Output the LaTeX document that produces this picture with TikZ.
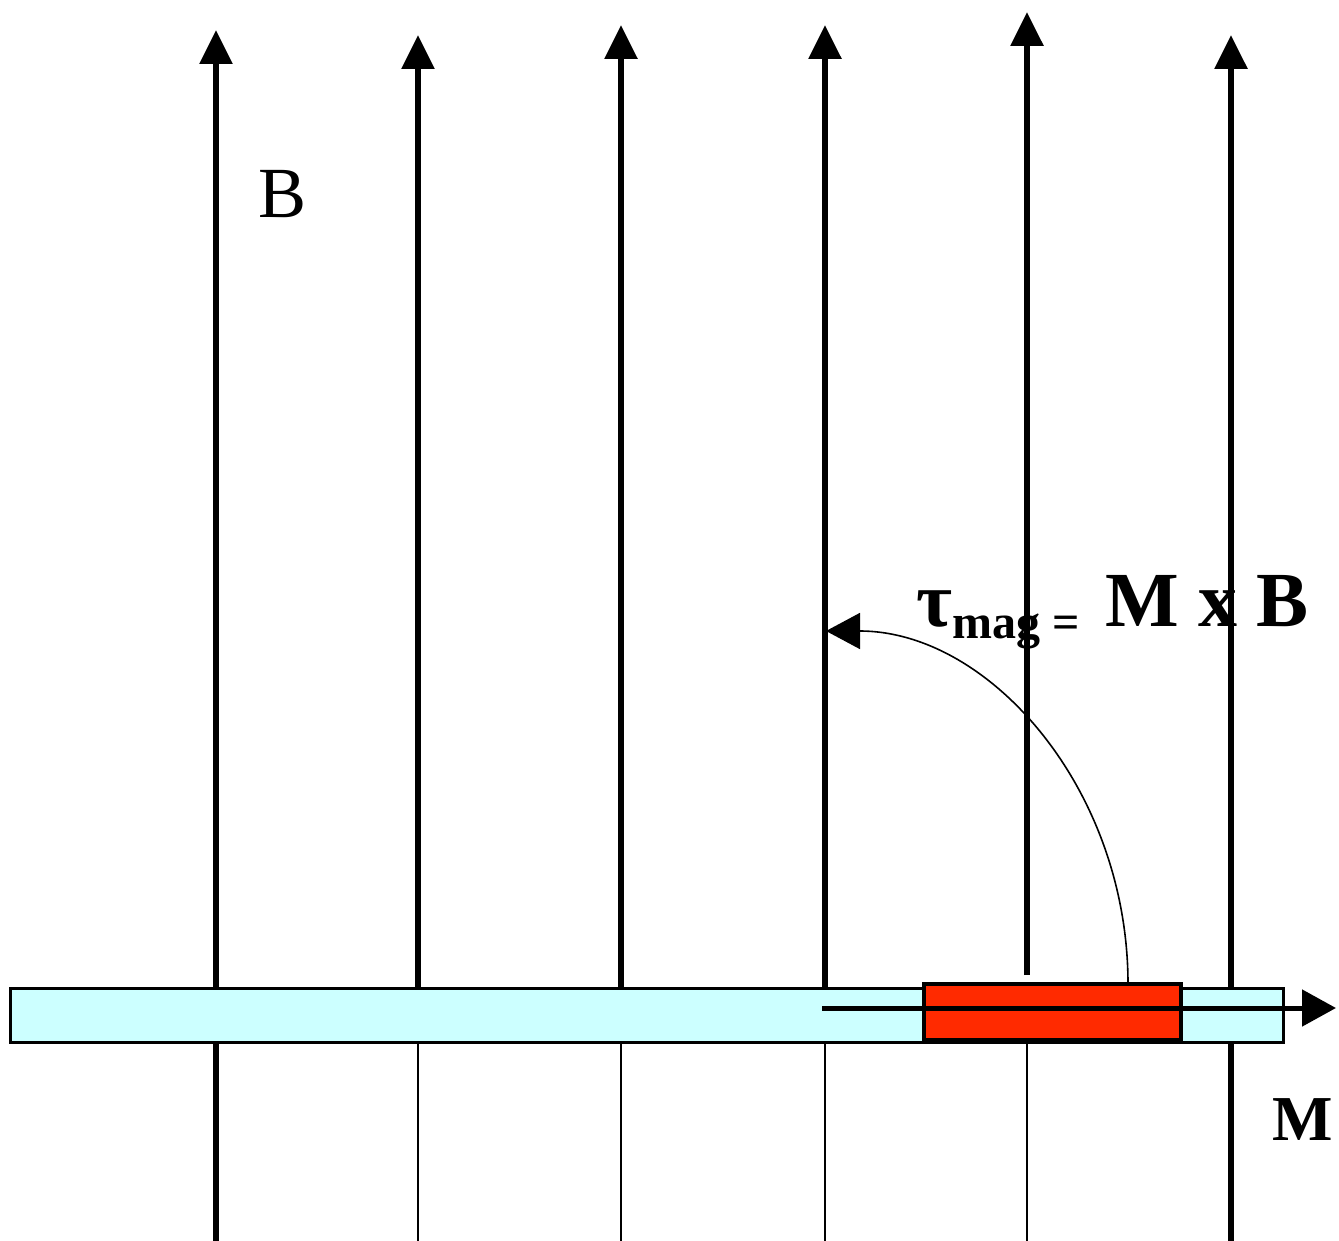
\documentclass[tikz,border=0pt]{standalone}
\usepackage{fontspec}
\setmainfont{Liberation Serif}
\usetikzlibrary{arrows.meta}
\definecolor{barcyan}{HTML}{CCFFFF}
\definecolor{magred}{HTML}{FF2A00}
\begin{document}
\begin{tikzpicture}[x=0.5pt,y=-0.5pt,
  fieldline/.style={line width=3pt,-{Triangle[length=17pt,width=16pt]}},
  fieldthick/.style={line width=3pt},
  fieldthin/.style={line width=1pt},
  barrect/.style={draw=black,line width=1.5pt,fill=barcyan},
  magrect/.style={draw=black,line width=2.2pt,fill=magred},
  momentarrow/.style={line width=2.5pt,-{Triangle[length=17pt,width=18pt]}},
  torquearrow/.style={line width=0.8pt,-{Triangle[length=17pt,width=18pt]}},
  lbl/.style={inner sep=0pt,anchor=base west}]
\useasboundingbox (0,0) rectangle (1339,1241);
% field line end points
\coordinate (ftopA) at (216,30);   \coordinate (fmidA) at (216,990);  \coordinate (flowA) at (216,1040); \coordinate (fbotA) at (216,1241);
\coordinate (ftopB) at (418,35);   \coordinate (fmidB) at (418,990);  \coordinate (flowB) at (418,1040); \coordinate (fbotB) at (418,1241);
\coordinate (ftopC) at (621,25);   \coordinate (fmidC) at (621,990);  \coordinate (flowC) at (621,1040); \coordinate (fbotC) at (621,1241);
\coordinate (ftopD) at (825,25);   \coordinate (fmidD) at (825,990);  \coordinate (flowD) at (825,1040); \coordinate (fbotD) at (825,1241);
\coordinate (ftopE) at (1027,12);  \coordinate (fmidE) at (1027,975); \coordinate (flowE) at (1027,1040); \coordinate (fbotE) at (1027,1241);
\coordinate (ftopF) at (1231,35);  \coordinate (fmidF) at (1231,990); \coordinate (flowF) at (1231,1040); \coordinate (fbotF) at (1231,1241);
% upper field lines with arrows
\draw[fieldline] (fmidA) -- (ftopA);
\draw[fieldline] (fmidB) -- (ftopB);
\draw[fieldline] (fmidC) -- (ftopC);
\draw[fieldline] (fmidD) -- (ftopD);
\draw[fieldline] (fmidE) -- (ftopE);
\draw[fieldline] (fmidF) -- (ftopF);
% lower field lines
\draw[fieldthick] (fbotA) -- (flowA);
\draw[fieldthin] (fbotB) -- (flowB);
\draw[fieldthin] (fbotC) -- (flowC);
\draw[fieldthin] (fbotD) -- (flowD);
\draw[fieldthin] (fbotE) -- (flowE);
\draw[fieldthick] (fbotF) -- (flowF);
% bar
\draw[barrect] (10,988) rectangle (1283,1042);
% magnet
\draw[magrect] (924,984) rectangle (1181,1040);
% torque curve
\coordinate (tstart) at (1128,984);
\coordinate (tend) at (826,631);
\draw[torquearrow] (tstart) .. controls (1128,790) and (990,631) .. (tend);
% moment arrow
\coordinate (mstart) at (822,1008);
\coordinate (mend) at (1336,1008);
\draw[momentarrow] (mstart) -- (mend);
% labels
\node[lbl,font=\fontsize{36}{40}\selectfont] (Blabel) at (258,218) {B};
\node[lbl,font=\fontsize{32}{36}\selectfont\bfseries] (Mlabel) at (1272,1140) {M};
\node[lbl,font=\fontsize{39}{44}\selectfont\bfseries] (formula) at (916,626)
  {τ\raisebox{-6pt}{\fontsize{24}{26}\selectfont mag =}\hspace{3pt} M x B};
\end{tikzpicture}
\end{document}
